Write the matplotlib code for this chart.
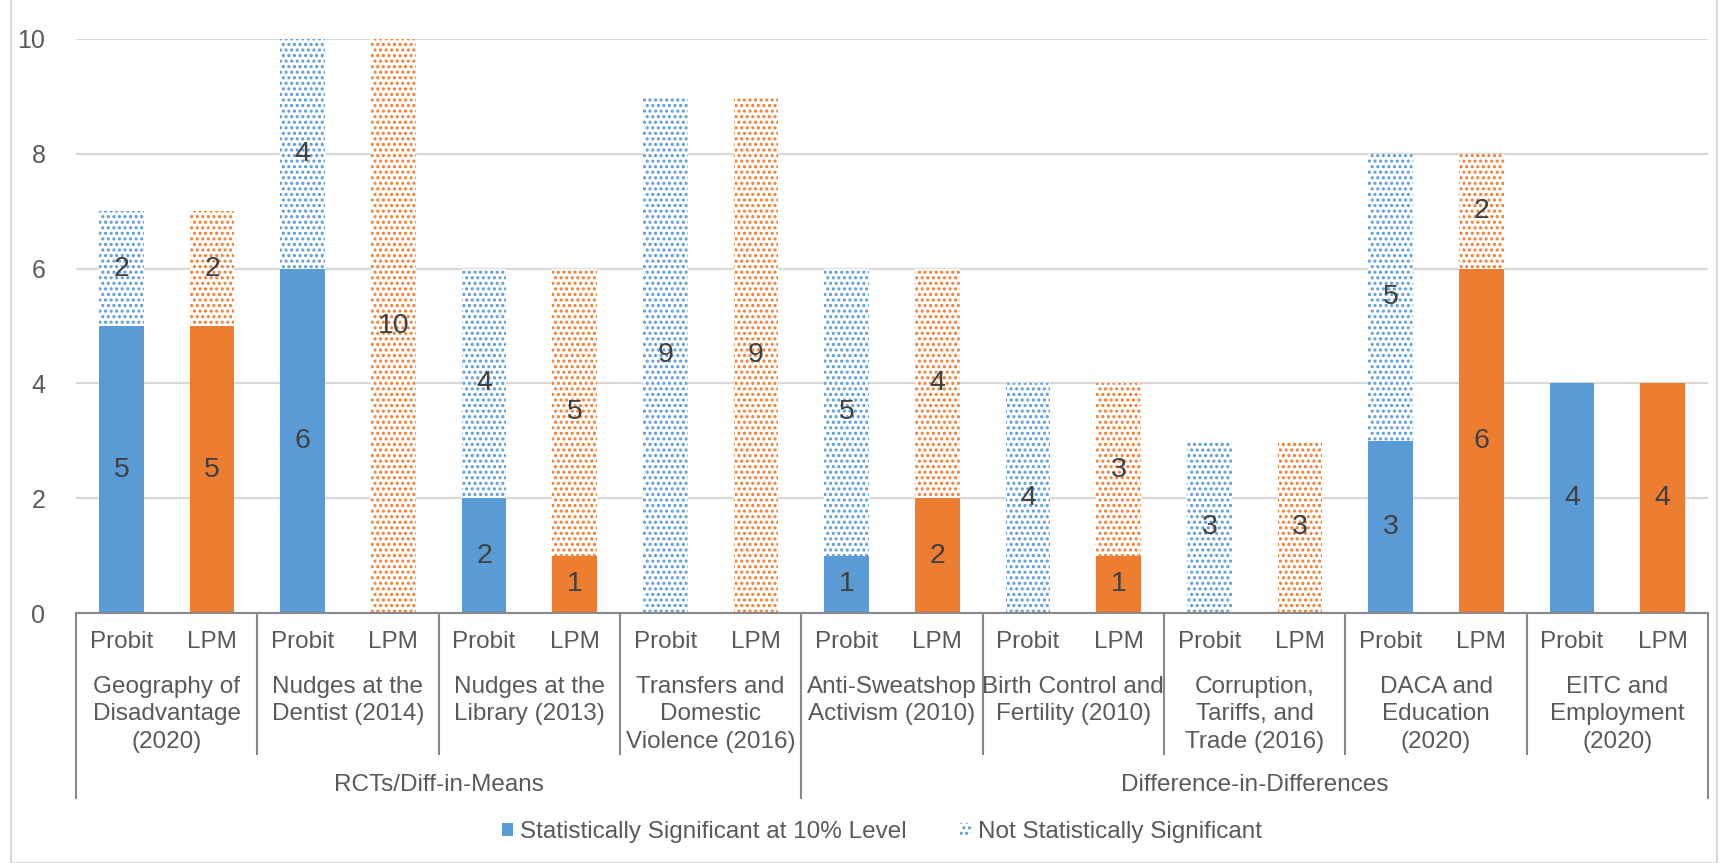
import matplotlib
matplotlib.use("Agg")
import matplotlib.pyplot as plt
from matplotlib.patches import Patch, Rectangle
from matplotlib.transforms import blended_transform_factory

plt.rcParams["font.family"] = ["Liberation Sans", "DejaVu Sans"]
plt.rcParams["hatch.linewidth"] = 1.5

# ---- data ---------------------------------------------------------------
studies = [
    "Geography of\nDisadvantage\n(2020)",
    "Nudges at the\nDentist (2014)",
    "Nudges at the\nLibrary (2013)",
    "Transfers and\nDomestic\nViolence (2016)",
    "Anti-Sweatshop\nActivism (2010)",
    "Birth Control and\nFertility (2010)",
    "Corruption,\nTariffs, and\nTrade (2016)",
    "DACA and\nEducation\n(2020)",
    "EITC and\nEmployment\n(2020)",
]
groups = ["RCTs/Diff-in-Means", "Difference-in-Differences"]
group_sizes = [4, 5]
models = ["Probit", "LPM"]

probit_sig = [5, 6, 2, 0, 1, 0, 0, 3, 4]
probit_not = [2, 4, 4, 9, 5, 4, 3, 5, 0]
lpm_sig = [5, 0, 1, 0, 2, 1, 0, 6, 4]
lpm_not = [2, 10, 5, 9, 4, 3, 3, 2, 0]

legend_labels = ["Statistically Significant at 10% Level", "Not Statistically Significant"]
yticks = [0, 2, 4, 6, 8, 10]

# ---- style --------------------------------------------------------------
BLUE = "#5B9BD5"
ORANGE = "#ED7D31"
GRID = "#D9D9D9"
AXIS = "#898989"
TXT = "#595959"
LBL = "#404040"

W, H = 1720, 863
fig = plt.figure(figsize=(W / 100, H / 100), dpi=100)
ax = fig.add_axes([76 / W, (H - 613) / H, (1708 - 76) / W, (613 - 39) / H])

n = len(studies)
width = 0.49
for k in range(n):
    for j, (sig, nsig, col) in enumerate(
        [(probit_sig, probit_not, BLUE), (lpm_sig, lpm_not, ORANGE)]
    ):
        x = 2 * k + j
        s, ns = sig[k], nsig[k]
        if s:
            ax.bar(x, s, width=width, color=col, linewidth=0, zorder=2)
            ax.text(x, s / 2, str(s), ha="center", va="center",
                    fontsize=20.5, color=LBL, zorder=4)
        if ns:
            ax.bar(x, ns, bottom=s, width=width, facecolor="white",
                   edgecolor=col, hatch="...", linewidth=0, zorder=2)
            ax.text(x, s + ns / 2, str(ns), ha="center", va="center",
                    fontsize=20.5, color=LBL, zorder=4)

ax.set_xlim(-0.5, 2 * n - 0.5)
ax.set_ylim(0, 10)
ax.set_yticks(yticks)
ax.yaxis.grid(True, color=GRID, linewidth=1.6, zorder=0)
ax.set_axisbelow(True)
ax.tick_params(axis="y", length=0, labelsize=18, labelcolor=TXT, pad=22)
ax.set_xticks([])
for side in ["left", "right", "top"]:
    ax.spines[side].set_visible(False)
ax.spines["bottom"].set_color(AXIS)
ax.spines["bottom"].set_linewidth(1.5)

# ---- multi-level category axis -----------------------------------------
ah = 613 - 39
def ay(py):
    return (613 - py) / ah

tr = blended_transform_factory(ax.transData, ax.transAxes)
line_kw = dict(color=AXIS, linewidth=1.5, clip_on=False, transform=tr)

for k in range(n):
    for j, m in enumerate(models):
        ax.text(2 * k + j, ay(642), m, ha="center", va="center",
                fontsize=17.5, color=TXT, transform=tr)
    ax.text(2 * k + 0.5, ay(676), studies[k], ha="center", va="top",
            fontsize=17.5, color=TXT, linespacing=1.32, transform=tr)

# separators between studies
edges = [2 * k - 0.5 for k in range(n + 1)]
group_edges = [-0.5]
for g in group_sizes:
    group_edges.append(group_edges[-1] + 2 * g)
for e in edges:
    bottom = ay(798) if e in group_edges else ay(754)
    ax.plot([e, e], [0, bottom], **line_kw)

start = 0
for g, size in zip(groups, group_sizes):
    xc = start + size - 0.5
    ax.text(xc, ay(785), g, ha="center", va="center", fontsize=17.5,
            color=TXT, transform=tr)
    start += 2 * size

# ---- legend -------------------------------------------------------------
handles = [
    Patch(facecolor=BLUE, edgecolor=BLUE, linewidth=0),
    Patch(facecolor="white", edgecolor=BLUE, hatch="...", linewidth=0),
]
fig.legend(handles, legend_labels, loc="center", bbox_to_anchor=(882 / W, 31 / H),
           ncol=2, frameon=False, fontsize=17.5, labelcolor=TXT,
           handlelength=0.45, handleheight=0.45, handletextpad=0.3,
           columnspacing=2.2)

# outer chart border
fig.patches.append(Rectangle((11 / W, 0), (1717 - 11) / W, (H - 11) / H + 0.02,
                             transform=fig.transFigure, fill=False,
                             edgecolor=GRID, linewidth=1.5))

fig.savefig("out.png", dpi=100)
